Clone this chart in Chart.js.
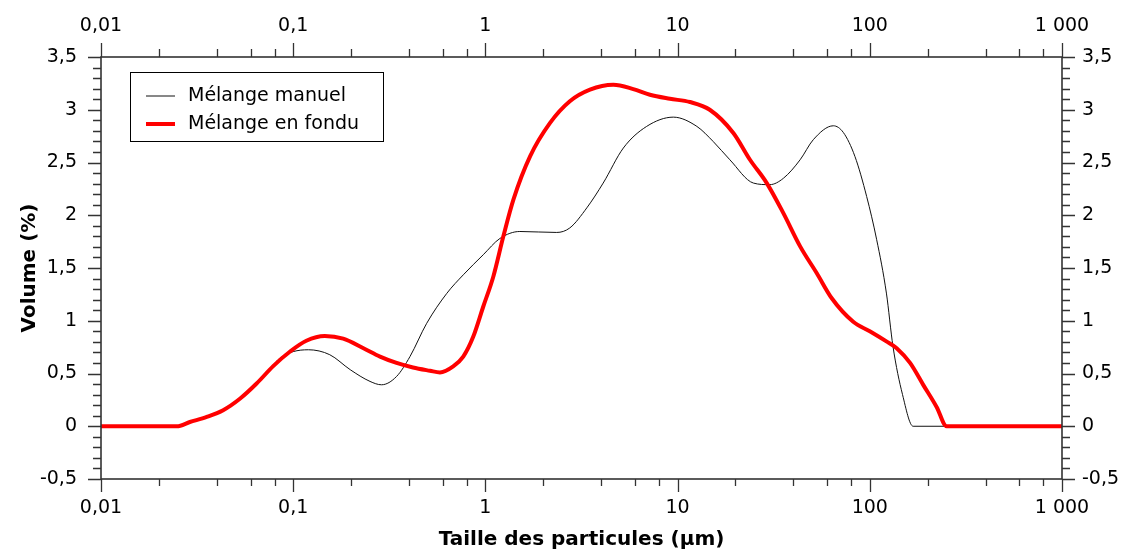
<!DOCTYPE html>
<html>
<head>
<meta charset="utf-8">
<script src="https://cdn.jsdelivr.net/npm/chart.js@4"></script>
<style>
  body { margin: 0; background: #fff; }
</style>
</head>
<body>
<canvas id="granulo" width="1128" height="551"></canvas>
<script>
// Distribution granulométrique : manuel vs fondu
const seriesLabels = ['Mélange manuel', 'Mélange en fondu'];

const manuelX = [0.01, 0.0248, 0.029, 0.0355, 0.0432, 0.053, 0.0645, 0.0787, 0.0833, 0.12, 0.155, 0.198, 0.251, 0.288, 0.345, 0.405, 0.495, 0.63, 0.768, 0.975, 1.19, 1.51, 2.35, 2.75, 3.37, 4.1, 5.22, 6.9, 9.5, 12.6, 15.3, 18.7, 24.8, 30.2, 35.5, 43.4, 50.8, 64.6, 72.8, 83.7, 96.3, 108.6, 122, 132, 148, 168, 1000];
const manuelY = [0, 0, 0.04, 0.088, 0.152, 0.263, 0.405, 0.57, 0.63, 0.725, 0.678, 0.536, 0.425, 0.393, 0.472, 0.66, 0.976, 1.26, 1.436, 1.626, 1.78, 1.846, 1.837, 1.88, 2.07, 2.305, 2.637, 2.842, 2.93, 2.842, 2.70, 2.526, 2.305, 2.29, 2.35, 2.526, 2.716, 2.848, 2.785, 2.557, 2.178, 1.768, 1.262, 0.757, 0.3, 0, 0];

const fonduX = [0.01, 0.0248, 0.029, 0.0355, 0.0432, 0.053, 0.0645, 0.0787, 0.096, 0.117, 0.146, 0.182, 0.232, 0.283, 0.345, 0.42, 0.515, 0.58, 0.68, 0.767, 0.865, 0.975, 1.1, 1.24, 1.40, 1.71, 2.17, 2.75, 3.5, 4.63, 5.88, 7.18, 9.12, 11.6, 14.7, 19.5, 23.8, 29.1, 35.5, 43.4, 53, 63.4, 82, 100, 122, 138, 162, 190, 223, 251, 1000];
const fonduY = [0, 0, 0.04, 0.088, 0.152, 0.263, 0.405, 0.57, 0.706, 0.81, 0.855, 0.83, 0.74, 0.66, 0.60, 0.557, 0.526, 0.51, 0.567, 0.66, 0.85, 1.135, 1.42, 1.80, 2.15, 2.56, 2.875, 3.08, 3.19, 3.237, 3.196, 3.142, 3.104, 3.073, 3.0, 2.78, 2.526, 2.305, 2.02, 1.705, 1.45, 1.213, 0.99, 0.9, 0.804, 0.74, 0.6, 0.39, 0.18, 0, 0];

const xTickValues = [0.01, 0.1, 1, 10, 100, 1000];
const xTickLabels = ['0,01', '0,1', '1', '10', '100', '1 000'];
const xMinorSteps = [2, 4, 6, 8];

const tickFont = { family: 'DejaVu Sans', size: 19 };
const axisColor = '#333';

function toPoints(xs, ys) {
  return xs.map(function (x, i) { return { x: x, y: ys[i] }; });
}

function decadeTicks(scale) {
  scale.ticks = xTickValues.map(function (v) { return { value: v }; });
}

function xLabel(value) {
  const i = xTickValues.indexOf(value);
  return i >= 0 ? xTickLabels[i] : '';
}

function yLabel(value) {
  return String(value).replace('.', ',');
}

// ticks vers l'extérieur sur les 4 côtés + cadre + légende encadrée
const axesPlugin = {
  id: 'axesPlugin',
  afterDraw(chart) {
    const ctx = chart.ctx;
    const a = chart.chartArea;
    const sx = chart.scales.x, sy = chart.scales.y;
    ctx.save();
    ctx.strokeStyle = axisColor;
    ctx.lineWidth = 1.6;
    ctx.strokeRect(a.left, a.top, a.right - a.left, a.bottom - a.top);

    ctx.beginPath();
    xTickValues.forEach(function (v, i) {
      const px = Math.round(sx.getPixelForValue(v)) + 0.5;
      ctx.moveTo(px, a.bottom); ctx.lineTo(px, a.bottom + 13);
      ctx.moveTo(px, a.top); ctx.lineTo(px, a.top - 14);
      if (i < xTickValues.length - 1) {
        xMinorSteps.forEach(function (m) {
          const mx = Math.round(sx.getPixelForValue(v * m)) + 0.5;
          ctx.moveTo(mx, a.bottom); ctx.lineTo(mx, a.bottom + 7);
          ctx.moveTo(mx, a.top); ctx.lineTo(mx, a.top - 8);
        });
      }
    });
    for (let k = -5; k <= 35; k++) {
      const py = Math.round(sy.getPixelForValue(k / 10)) + 0.5;
      const len = (k % 5 === 0) ? 13 : 8;
      ctx.moveTo(a.left, py); ctx.lineTo(a.left - len, py);
      ctx.moveTo(a.right, py); ctx.lineTo(a.right + len, py);
    }
    ctx.lineWidth = 1.3;
    ctx.stroke();

    // légende
    ctx.strokeStyle = '#000';
    ctx.lineWidth = 1;
    ctx.fillStyle = '#fff';
    ctx.fillRect(130.5, 72.5, 253, 69);
    ctx.strokeRect(130.5, 72.5, 253, 69);
    ctx.font = '19px "DejaVu Sans"';
    ctx.textBaseline = 'middle';
    chart.data.datasets.forEach(function (ds, i) {
      const ly = 96 + i * 28;
      ctx.beginPath();
      ctx.strokeStyle = ds.borderColor;
      ctx.lineWidth = ds.borderWidth;
      ctx.moveTo(146, ly); ctx.lineTo(175, ly);
      ctx.stroke();
      ctx.fillStyle = '#000';
      ctx.fillText(ds.label, 188, ly);
    });
    ctx.restore();
  }
};

const ctx = document.getElementById('granulo').getContext('2d');
const myChart = new Chart(ctx, {
  type: 'line',
  plugins: [axesPlugin],
  data: {
    datasets: [
      {
        label: seriesLabels[0],
        data: toPoints(manuelX, manuelY),
        borderColor: '#111',
        borderWidth: 1,
        pointRadius: 0,
        cubicInterpolationMode: 'monotone',
        fill: false,
        order: 2
      },
      {
        label: seriesLabels[1],
        data: toPoints(fonduX, fonduY),
        borderColor: '#ff0000',
        borderWidth: 4,
        pointRadius: 0,
        cubicInterpolationMode: 'monotone',
        fill: false,
        order: 1
      }
    ]
  },
  options: {
    responsive: false,
    animation: false,
    events: [],
    layout: { padding: 0 },
    scales: {
      x: {
        type: 'logarithmic',
        position: 'bottom',
        min: 0.01,
        max: 1000,
        afterBuildTicks: decadeTicks,
        afterFit: function (s) { s.height = 72; },
        grid: { display: false, drawTicks: false },
        border: { display: false },
        ticks: { callback: xLabel, font: tickFont, color: '#000', padding: 18, maxRotation: 0, autoSkip: false },
        title: {
          display: true,
          text: 'Taille des particules (µm)',
          color: '#000',
          font: { family: 'DejaVu Sans', size: 20, weight: 'bold' },
          padding: { top: 0, bottom: -1 }
        }
      },
      x2: {
        type: 'logarithmic',
        position: 'top',
        min: 0.01,
        max: 1000,
        afterBuildTicks: decadeTicks,
        afterFit: function (s) { s.height = 57; },
        grid: { display: false, drawTicks: false },
        border: { display: false },
        ticks: { callback: xLabel, font: tickFont, color: '#000', padding: 20, maxRotation: 0, autoSkip: false }
      },
      y: {
        type: 'linear',
        position: 'left',
        min: -0.5,
        max: 3.5,
        afterFit: function (s) { s.width = 101; },
        grid: { display: false, drawTicks: false },
        border: { display: false },
        ticks: { stepSize: 0.5, callback: yLabel, font: tickFont, color: '#000', padding: 24 },
        title: {
          display: true,
          text: 'Volume (%)',
          color: '#000',
          font: { family: 'DejaVu Sans', size: 20, weight: 'bold' },
          padding: { top: 18, bottom: 0 }
        }
      },
      y2: {
        type: 'linear',
        position: 'right',
        min: -0.5,
        max: 3.5,
        afterFit: function (s) { s.width = 66; },
        grid: { display: false, drawTicks: false },
        border: { display: false },
        ticks: { stepSize: 0.5, callback: yLabel, font: tickFont, color: '#000', padding: 20 }
      }
    },
    plugins: {
      legend: { display: false },
      title: { display: false },
      tooltip: { enabled: false }
    }
  }
});
</script>
</body>
</html>
